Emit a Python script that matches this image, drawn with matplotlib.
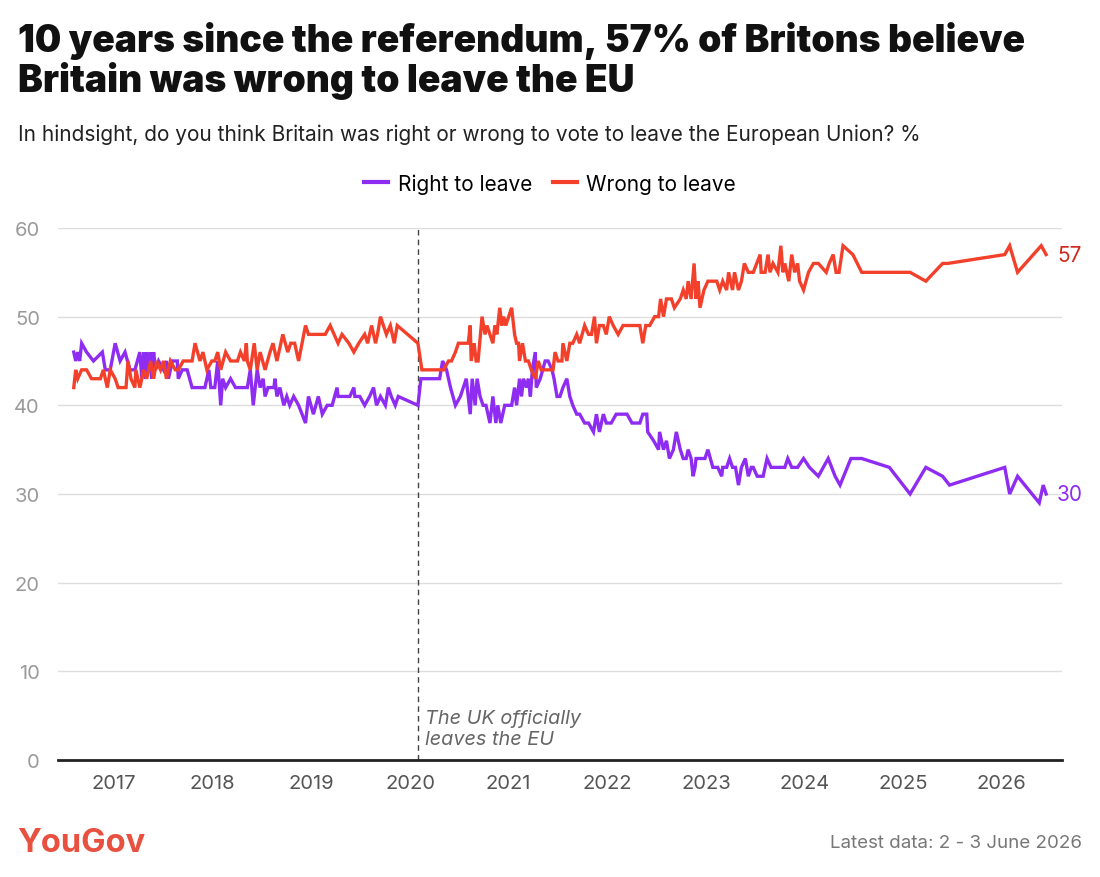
import matplotlib
matplotlib.use("Agg")
import matplotlib.pyplot as plt

plt.rcParams['font.family'] = ['Inter', 'DejaVu Sans']

# survey dates (decimal years) and share saying Britain was right / wrong to leave
right_x = [2016.59, 2016.61, 2016.63, 2016.65, 2016.67, 2016.72, 2016.79, 2016.88, 2016.91, 2016.96,
           2017.01, 2017.06, 2017.11, 2017.16, 2017.21, 2017.26, 2017.28, 2017.30, 2017.32, 2017.33,
           2017.35, 2017.37, 2017.38, 2017.40, 2017.42, 2017.45, 2017.50, 2017.53, 2017.55, 2017.59,
           2017.64, 2017.65, 2017.69, 2017.74, 2017.79, 2017.87, 2017.92, 2017.96, 2017.98, 2018.02,
           2018.05, 2018.08, 2018.10, 2018.13, 2018.18, 2018.23, 2018.28, 2018.35, 2018.38, 2018.41,
           2018.45, 2018.48, 2018.51, 2018.53, 2018.56, 2018.62, 2018.63, 2018.65, 2018.68, 2018.72,
           2018.75, 2018.78, 2018.82, 2018.87, 2018.94, 2018.97, 2019.02, 2019.07, 2019.11, 2019.16,
           2019.21, 2019.26, 2019.27, 2019.32, 2019.39, 2019.43, 2019.44, 2019.49, 2019.54, 2019.59,
           2019.63, 2019.66, 2019.70, 2019.75, 2019.78, 2019.81, 2019.85, 2019.88, 2020.08,
           2020.11, 2020.30, 2020.33, 2020.37, 2020.41, 2020.46, 2020.51, 2020.54, 2020.57, 2020.61,
           2020.63, 2020.66, 2020.68, 2020.71, 2020.74, 2020.77, 2020.81, 2020.84, 2020.87, 2020.89,
           2020.92, 2020.96, 2021.00, 2021.03, 2021.06, 2021.08, 2021.11, 2021.13, 2021.15, 2021.18,
           2021.20, 2021.22, 2021.24, 2021.27, 2021.28, 2021.32, 2021.37, 2021.40, 2021.44, 2021.46,
           2021.49, 2021.52, 2021.55, 2021.59, 2021.62, 2021.65, 2021.69, 2021.72, 2021.77, 2021.81,
           2021.86, 2021.89, 2021.92, 2021.96, 2021.99, 2022.04, 2022.09, 2022.13, 2022.20, 2022.25,
           2022.33, 2022.36, 2022.40, 2022.41, 2022.47, 2022.52, 2022.53, 2022.57, 2022.60, 2022.63,
           2022.67, 2022.70, 2022.74,
           2022.77, 2022.80, 2022.82, 2022.85, 2022.87, 2022.89, 2022.90, 2022.99, 2023.02, 2023.07,
           2023.12, 2023.16, 2023.17, 2023.21, 2023.24, 2023.27, 2023.30, 2023.33, 2023.36, 2023.40,
           2023.43, 2023.46, 2023.48, 2023.52, 2023.55, 2023.58, 2023.62, 2023.66, 2023.74, 2023.78,
           2023.80, 2023.83, 2023.87, 2023.93, 2023.99, 2024.05, 2024.14, 2024.24, 2024.31, 2024.36,
           2024.47, 2024.58, 2024.86, 2025.07, 2025.23, 2025.40, 2025.47, 2026.03, 2026.08, 2026.16,
           2026.38, 2026.42, 2026.45]
right_pct = [46, 45, 46, 45, 47, 46, 45, 46, 44, 44,
             47, 45, 46, 44, 44, 46, 43, 46, 43, 46,
             44, 46, 43, 46, 44, 45, 44, 45, 43, 45,
             45, 43, 44, 44, 42, 42, 42, 44, 42, 42,
             45, 40, 43, 42, 43, 42, 42, 42, 44, 40,
             44, 42, 43, 41, 42, 42, 43, 41, 42, 40,
             41, 40, 41, 40, 38, 41, 39, 41, 39, 40,
             40, 42, 41, 41, 41, 42, 41, 41, 40, 41,
             42, 40, 41, 40, 42, 41, 40, 41, 40,
             43, 43, 45, 44, 42, 40, 41, 42, 43, 39,
             43, 40, 43, 41, 40, 40, 38, 41, 38, 40,
             38, 40, 40, 40, 42, 40, 43, 41, 43, 42,
             43, 41, 44, 46, 42, 43, 45, 45, 44, 43,
             41, 41, 42, 43, 41, 40, 39, 39, 38, 38,
             37, 39, 37, 39, 38, 38, 39, 39, 39, 38,
             38, 39, 39, 37, 36, 35, 37, 35, 36, 34,
             35, 37, 35,
             34, 34, 35, 34, 32, 33, 34, 34, 35, 33,
             33, 32, 33, 33, 34, 33, 33, 31, 33, 34,
             32, 33, 33, 32, 32, 32, 34, 33, 33, 33,
             33, 34, 33, 33, 34, 33, 32, 34, 32, 31,
             34, 34, 33, 30, 33, 32, 31, 33, 30, 32,
             29, 31, 30]

wrong_x = [2016.59, 2016.61, 2016.63, 2016.67, 2016.72, 2016.77, 2016.86, 2016.89, 2016.93, 2016.96,
           2017.01, 2017.04, 2017.12, 2017.14, 2017.17, 2017.21, 2017.22, 2017.26, 2017.30, 2017.33,
           2017.37, 2017.40, 2017.43, 2017.47, 2017.50, 2017.53, 2017.57, 2017.62, 2017.65, 2017.70,
           2017.79, 2017.82, 2017.87, 2017.90, 2017.94, 2017.99, 2018.02, 2018.05, 2018.08, 2018.13,
           2018.18, 2018.22, 2018.25, 2018.28, 2018.32, 2018.34, 2018.35, 2018.38, 2018.42, 2018.45,
           2018.48, 2018.53, 2018.58, 2018.61, 2018.65, 2018.67, 2018.71, 2018.76, 2018.79, 2018.83,
           2018.87, 2018.94, 2018.97, 2019.09, 2019.14, 2019.19, 2019.27, 2019.31, 2019.38, 2019.43,
           2019.48, 2019.54, 2019.57, 2019.61, 2019.65, 2019.67, 2019.70, 2019.76, 2019.80, 2019.84,
           2019.87, 2020.08,
           2020.12, 2020.30, 2020.34, 2020.39, 2020.42, 2020.46, 2020.49, 2020.59, 2020.61, 2020.62,
           2020.65, 2020.67, 2020.69, 2020.73, 2020.76, 2020.78, 2020.81, 2020.84, 2020.86, 2020.88,
           2020.91, 2020.93, 2020.95, 2020.97, 2021.03, 2021.06, 2021.08, 2021.10, 2021.11, 2021.14,
           2021.17, 2021.20, 2021.23, 2021.27, 2021.30, 2021.33, 2021.38, 2021.42, 2021.45, 2021.47,
           2021.50, 2021.54, 2021.55, 2021.59, 2021.62, 2021.65, 2021.69, 2021.72, 2021.77, 2021.81,
           2021.84, 2021.87, 2021.89, 2021.92, 2021.96, 2021.99, 2022.02, 2022.06, 2022.11, 2022.16,
           2022.26, 2022.33, 2022.36, 2022.39, 2022.43, 2022.48, 2022.52, 2022.54, 2022.57, 2022.60,
           2022.65, 2022.68, 2022.74,
           2022.77, 2022.80, 2022.82, 2022.85, 2022.88, 2022.90, 2022.92, 2022.94, 2022.98, 2023.02,
           2023.11, 2023.14, 2023.17, 2023.21, 2023.23, 2023.27, 2023.29, 2023.33, 2023.36, 2023.39,
           2023.43, 2023.46, 2023.48, 2023.55, 2023.56, 2023.60, 2023.63, 2023.65, 2023.68, 2023.73,
           2023.76, 2023.78, 2023.80, 2023.82, 2023.84, 2023.87, 2023.90, 2023.93, 2023.95, 2023.99,
           2024.04, 2024.09, 2024.14, 2024.22, 2024.25, 2024.29, 2024.32, 2024.35, 2024.39, 2024.49,
           2024.58, 2025.07, 2025.23, 2025.40, 2025.45, 2026.03, 2026.08, 2026.16, 2026.40, 2026.45]
wrong_pct = [42, 44, 43, 44, 44, 43, 43, 44, 42, 44,
             43, 42, 42, 45, 43, 42, 44, 42, 44, 43,
             45, 43, 45, 44, 45, 43, 45, 44, 44, 45,
             45, 47, 45, 46, 44, 45, 45, 46, 44, 46,
             45, 45, 45, 46, 45, 47, 45, 44, 47, 44,
             46, 44, 46, 47, 45, 46, 48, 46, 47, 47,
             45, 49, 48, 48, 48, 49, 47, 48, 47, 46,
             47, 48, 47, 49, 47, 48, 50, 48, 49, 47,
             49, 47,
             44, 44, 44, 45, 45, 46, 47, 47, 49, 45,
             47, 45, 45, 50, 48, 49, 48, 47, 49, 48,
             51, 49, 50, 49, 51, 48, 47, 47, 45, 47,
             45, 45, 44, 43, 45, 44, 44, 44, 44, 46,
             45, 45, 47, 45, 47, 47, 48, 47, 49, 48,
             48, 50, 47, 49, 49, 48, 50, 49, 48, 49,
             49, 49, 47, 49, 49, 50, 50, 52, 50, 52,
             52, 51, 52,
             53, 52, 54, 52, 56, 52, 54, 51, 53, 54,
             54, 53, 54, 53, 55, 53, 55, 53, 54, 56,
             55, 55, 55, 57, 55, 55, 57, 55, 56, 55,
             58, 55, 56, 55, 54, 57, 55, 56, 54, 53,
             55, 56, 56, 55, 56, 57, 55, 55, 58, 57,
             55, 55, 54, 56, 56, 57, 58, 55, 58, 57]

years = [2017, 2018, 2019, 2020, 2021, 2022, 2023, 2024, 2025, 2026]
brexit_day = 2020.08

purple = "#8f2cf2"
red = "#f2402b"

fig = plt.figure(figsize=(11, 8.78), dpi=100)
ax = fig.add_axes([0.0527, 0.1333, 0.9127, 0.6059])

ax.plot(right_x, right_pct, color=purple, lw=2.4, solid_joinstyle="miter", zorder=3)
ax.plot(wrong_x, wrong_pct, color=red, lw=2.4, solid_joinstyle="miter", zorder=3)

ax.set_xlim(2016.43, 2026.61)
ax.set_ylim(0, 60)
ax.set_yticks(range(0, 61, 10))
ax.set_xticks(years)
ax.set_xticklabels([str(y) for y in years])
ax.grid(axis="y", color="#dddddd", lw=1)
ax.set_axisbelow(True)
for s in ["top", "right", "left"]:
    ax.spines[s].set_visible(False)
ax.spines["bottom"].set_color("#222222")
ax.spines["bottom"].set_linewidth(2)
ax.spines["bottom"].set_zorder(4)
ax.tick_params(axis="y", length=0, pad=13, labelsize=14.5, labelcolor="#9a9a9a")
ax.tick_params(axis="x", length=0, pad=10, labelsize=14.5, labelcolor="#555555")

ax.axvline(brexit_day, color="#444444", lw=1, ls=(0, (4, 3)), zorder=2)
ax.text(brexit_day + 0.07, 1.3, "The UK officially\nleaves the EU", style="italic",
        fontsize=14.3, color="#666666", va="bottom", ha="left", linespacing=1.25)

ax.text(right_x[-1] + 0.11, right_pct[-1], str(right_pct[-1]), color=purple, fontsize=15, va="center")
ax.text(wrong_x[-1] + 0.11, wrong_pct[-1], str(wrong_pct[-1]), color="#d0281c", fontsize=15, va="center")

fig.text(0.016, 0.975, "10 years since the referendum, 57% of Britons believe\nBritain was wrong to leave the EU",
         fontsize=26.8, fontweight="black", va="top", ha="left", linespacing=1.08, color="#111111")
fig.text(0.016, 0.847, "In hindsight, do you think Britain was right or wrong to vote to leave the European Union? %",
         fontsize=15, va="center", ha="left", color="#222222")

# legend
lh = [plt.Line2D([], [], color=purple, lw=3), plt.Line2D([], [], color=red, lw=3)]
fig.legend(lh, ["Right to leave", "Wrong to leave"], loc="center", bbox_to_anchor=(0.5, 0.79),
           ncol=2, frameon=False, fontsize=15, handlelength=1.15, handletextpad=0.45, columnspacing=1.0)

fig.text(0.016, 0.039, "YouGov", fontsize=23.5, color="#e8503f", fontweight="bold", va="center", ha="left")
fig.text(0.984, 0.039, "Latest data: 2 - 3 June 2026", fontsize=13.5, color="#777777", va="center", ha="right")

fig.savefig("out.png", dpi=100, facecolor="white")
